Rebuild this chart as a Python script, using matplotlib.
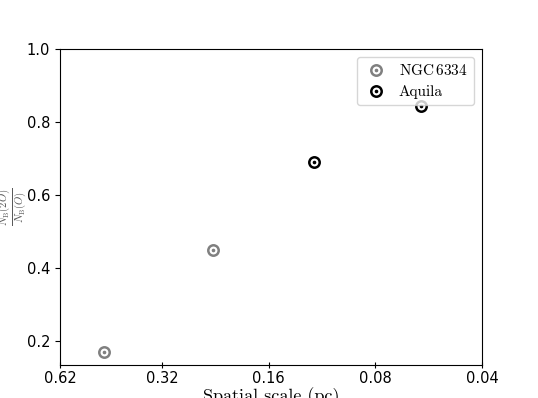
import matplotlib.pyplot as plt
from matplotlib.lines import Line2D

plt.rcParams['mathtext.fontset'] = 'cm'

# data
ngc_scale = [0.465, 0.23]
ngc_ratio = [0.17, 0.45]
aquila_scale = [0.119, 0.0595]
aquila_ratio = [0.69, 0.845]

xticks = [0.62, 0.32, 0.16, 0.08, 0.04]
xticklabels = ['0.62', '0.32', '0.16', '0.08', '0.04']
yticks = [0.2, 0.4, 0.6, 0.8, 1.0]

fig = plt.figure(figsize=(5.38, 3.98), dpi=100)
ax = fig.add_axes([0.1115, 0.083, 0.7845, 0.794])


def ring(x, y, color):
    ax.plot(x, y, 'o', ms=7.5, mfc='none', mec=color, mew=1.8, ls='none')
    ax.plot(x, y, 'o', ms=1.6, color=color, ls='none')


ring(ngc_scale, ngc_ratio, 'gray')
ring(aquila_scale, aquila_ratio, 'black')

ax.set_xscale('log')
ax.set_xlim(0.62, 0.04)
ax.set_ylim(0.135, 1.0)
ax.set_xticks(xticks)
ax.set_xticklabels(xticklabels)
ax.set_yticks(yticks)
ax.minorticks_off()
ax.tick_params(axis='x', direction='inout', length=5, labelsize=10.5, pad=2)
ax.tick_params(axis='y', labelsize=10.5)

ax.set_xlabel('Spatial scale (pc)', family='cmr10', fontsize=13, labelpad=1)
fig.text(0.0235, 0.48, r'$\frac{N_\mathrm{B}(2O)}{N_\mathrm{B}(O)}$', fontsize=11,
         color='0.35', rotation=90, ha='center', va='center')

handles = []
for c in ['gray', 'black']:
    h1 = Line2D([], [], marker='o', ms=7.5, mfc='none', mec=c, mew=1.8, ls='none')
    h2 = Line2D([], [], marker='o', ms=1.6, color=c, ls='none')
    handles.append((h1, h2))
leg = ax.legend(handles, ['NGC$\\,$6334', 'Aquila'], loc='upper right',
                prop={'family': 'cmr10', 'size': 11}, borderaxespad=0.55,
                borderpad=0.4, handlelength=1.6, handletextpad=0.7,
                labelspacing=0.45)

fig.savefig('out.png', dpi=100)
